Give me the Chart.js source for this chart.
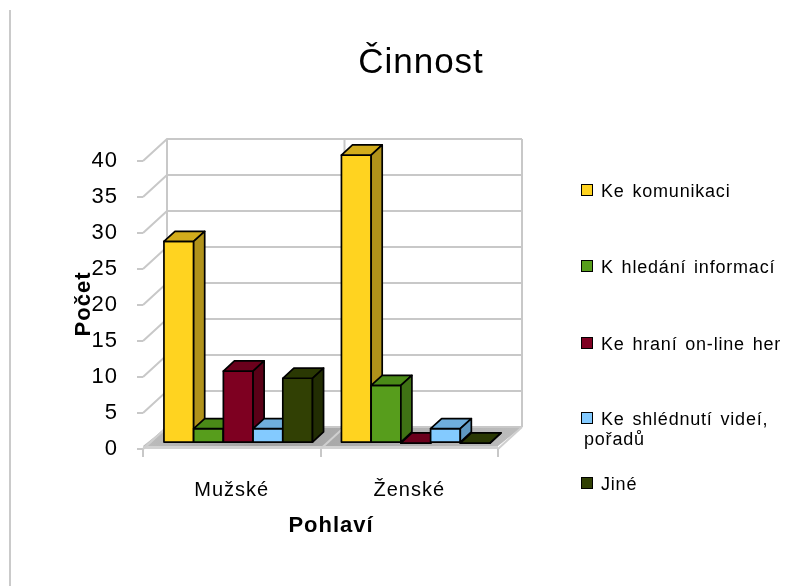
<!DOCTYPE html>
<html><head><meta charset="utf-8">
<script src="https://cdn.jsdelivr.net/npm/chart.js@4.4.0/dist/chart.umd.min.js"></script>
<style>html,body{margin:0;padding:0;background:#fff;}canvas{display:block;}</style>
</head><body>
<canvas id="c" width="786" height="586"></canvas>
<script>
// ---- data ----
const categories = ['Mužské', 'Ženské'];
const seriesNames = ['Ke komunikaci', 'K hledání informací', 'Ke hraní on-line her', 'Ke shlédnutí videí,\npořadů', 'Jiné'];
const komunikace = [28, 40];
const hledani = [2, 8];
const hrani = [10, 0];
const videa = [2, 2];
const jine = [9, 0];
const yMin = 0, yMax = 40, yStep = 5;
const chartTitle = 'Činnost';
const yTitle = 'Počet';
const xTitle = 'Pohlaví';

// ---- styles ----
const frontColors = ['#FFD320', '#579D1C', '#7E0021', '#83CAFF', '#314004'];
const topColors   = ['#D2AC1C', '#4A8A17', '#6B001C', '#6FAEDC', '#2A3803'];
const sideColors  = ['#B0921A', '#3F7214', '#5A0017', '#5F98C2', '#222D03'];
const FONT = '"Liberation Sans", Arial, sans-serif';
const DX = 24, DY = -22;      // wall depth projection
const F0 = 0.27, FD = 0.46;   // bar front offset and depth as fraction of wall depth

const seriesValues = [komunikace, hledani, hrani, videa, jine];

const threeD = {
  id: 'threeD',
  beforeDraw(chart) {
    chart.ctx.letterSpacing = '1px';
  },
  beforeDatasetsDraw(chart) {
    const {ctx, chartArea: {left, right, top, bottom}, scales: {x, y}} = chart;
    ctx.save();
    // floor front strip
    ctx.fillStyle = '#d2d2d2';
    ctx.fillRect(left, bottom - 3, right - left, 3);
    // floor
    const g = ctx.createLinearGradient(left, 0, right + DX, 0);
    g.addColorStop(0, '#bdbdbd');
    g.addColorStop(0.3, '#a2a2a2');
    g.addColorStop(1, '#bcbcbc');
    ctx.fillStyle = g;
    ctx.beginPath();
    ctx.moveTo(left, bottom - 3);
    ctx.lineTo(right, bottom - 3);
    ctx.lineTo(right + DX, bottom + DY);
    ctx.lineTo(left + DX, bottom + DY);
    ctx.closePath();
    ctx.fill();
    // gridlines on back and side walls
    ctx.strokeStyle = '#c8c8c8';
    ctx.lineWidth = 2;
    for (let v = yMin; v <= yMax; v += yStep) {
      const yy = y.getPixelForValue(v);
      ctx.beginPath();
      ctx.moveTo(left, yy);
      ctx.lineTo(left + DX, yy + DY);
      ctx.lineTo(right + DX, yy + DY);
      ctx.stroke();
    }
    const n = categories.length;
    for (let i = 0; i <= n; i++) {
      const xx = left + i * (right - left) / n;
      ctx.beginPath();
      ctx.moveTo(xx + DX, top + DY);
      ctx.lineTo(xx + DX, bottom + DY);
      ctx.stroke();
      ctx.beginPath();
      ctx.strokeStyle = '#cfcfcf';
      ctx.moveTo(xx, bottom);
      ctx.lineTo(xx + DX, bottom + DY);
      ctx.stroke();
      ctx.strokeStyle = '#c8c8c8';
    }
    ctx.restore();
  },
  beforeDatasetDraw() { return false; },
  afterDatasetsDraw(chart) {
    const ctx = chart.ctx;
    ctx.save();
    ctx.lineWidth = 1.7;
    ctx.strokeStyle = '#000';
    ctx.lineJoin = 'round';
    const ddx = FD * DX, ddy = FD * DY;
    const poly = (pts, fill) => {
      ctx.beginPath();
      ctx.moveTo(pts[0][0], pts[0][1]);
      for (let k = 1; k < pts.length; k++) ctx.lineTo(pts[k][0], pts[k][1]);
      ctx.closePath();
      ctx.fillStyle = fill;
      ctx.fill();
      ctx.stroke();
    };
    for (let i = 0; i < categories.length; i++) {
      for (let d = 0; d < chart.data.datasets.length; d++) {
        const el = chart.getDatasetMeta(d).data[i];
        const p = el.getProps(['x', 'y', 'base', 'width'], true);
        const x0 = p.x - p.width / 2 + F0 * DX, x1 = p.x + p.width / 2 + F0 * DX;
        const yt = p.y + F0 * DY, yb = p.base + F0 * DY;
        poly([[x0, yb], [x1, yb], [x1, yt], [x0, yt]], frontColors[d]);
        poly([[x0, yt], [x1, yt], [x1 + ddx, yt + ddy], [x0 + ddx, yt + ddy]], topColors[d]);
        poly([[x1, yt], [x1 + ddx, yt + ddy], [x1 + ddx, yb + ddy], [x1, yb]], sideColors[d]);
      }
    }
    ctx.restore();
  },
  afterDraw(chart) {
    const {ctx, chartArea: {top, bottom}} = chart;
    ctx.save();
    ctx.letterSpacing = '1px';
    // page border line
    ctx.strokeStyle = '#b8b8b8';
    ctx.lineWidth = 1.5;
    ctx.beginPath();
    ctx.moveTo(10, 10);
    ctx.lineTo(10, 586);
    ctx.stroke();
    // title
    ctx.fillStyle = '#000';
    ctx.textAlign = 'center';
    ctx.textBaseline = 'alphabetic';
    ctx.font = '35px ' + FONT;
    ctx.fillText(chartTitle, 421, 73);
    // axis titles
    ctx.font = 'bold 22px ' + FONT;
    ctx.fillText(xTitle, 331, 532);
    ctx.save();
    ctx.translate(90, (top + bottom) / 2 - 1);
    ctx.rotate(-Math.PI / 2);
    ctx.fillText(yTitle, 0, 0);
    ctx.restore();
    // legend
    ctx.textAlign = 'left';
    ctx.font = '18px ' + FONT;
    ctx.letterSpacing = '0.8px';
    ctx.wordSpacing = '2px';
    const legendY = [190, 266, 343, 418, 483];
    chart.data.datasets.forEach((ds, d) => {
      const cy = legendY[d];
      ctx.fillStyle = frontColors[d];
      ctx.fillRect(581.5, cy - 5.5, 11, 11);
      ctx.strokeStyle = '#000';
      ctx.lineWidth = 1;
      ctx.strokeRect(581.5, cy - 5.5, 11, 11);
      ctx.fillStyle = '#000';
      ds.label.split('\n').forEach((line, li) => {
        ctx.fillText(line, li === 0 ? 601 : 584, cy + 6.5 + li * 20);
      });
    });
    ctx.restore();
  }
};

new Chart(document.getElementById('c'), {
  type: 'bar',
  data: {
    labels: categories,
    datasets: seriesValues.map((vals, d) => ({
      label: seriesNames[d],
      data: vals,
      backgroundColor: frontColors[d],
      borderColor: '#000',
      borderWidth: 1
    }))
  },
  options: {
    responsive: false,
    animation: false,
    layout: { padding: { left: 0, right: 288, top: 161, bottom: 0 } },
    plugins: { legend: { display: false }, title: { display: false }, tooltip: { enabled: false } },
    datasets: { bar: { barPercentage: 1, categoryPercentage: 0.837 } },
    scales: {
      x: {
        type: 'category',
        grid: { offset: true, drawOnChartArea: false, drawTicks: true, tickLength: 8, color: '#c8c8c8', lineWidth: 2 },
        border: { display: false },
        ticks: { color: '#000', font: { family: FONT, size: 20 }, padding: 21, maxRotation: 0 },
        afterFit(s) { s.height = 137; }
      },
      y: {
        min: yMin, max: yMax,
        grid: { drawOnChartArea: false, drawTicks: true, tickLength: 6, color: '#c8c8c8', lineWidth: 2 },
        border: { display: false },
        ticks: { stepSize: yStep, color: '#000', font: { family: FONT, size: 22 }, padding: 19 },
        afterFit(s) { s.width = 143; }
      }
    }
  },
  plugins: [threeD]
});
</script>
</body></html>
